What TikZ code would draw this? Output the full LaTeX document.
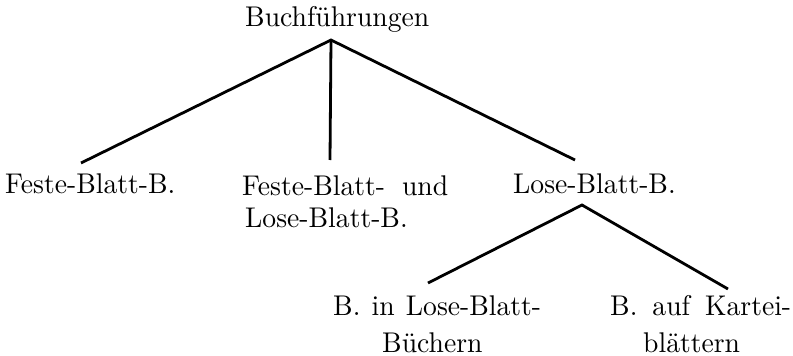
\documentclass[tikz,border=0pt]{standalone}
\usepackage{fontspec}
\setmainfont{lmroman10}[Extension=.otf,UprightFont=*-regular,FakeStretch=0.97]
\begin{document}
\begin{tikzpicture}[x=1pt,y=-1pt,
  label/.style={inner sep=0pt,anchor=base west,font=\fontsize{28.5}{32}\selectfont},
  branch/.style={line width=2.8pt,line cap=butt}]
\useasboundingbox (0,0) rectangle (793,356);

% text of the tree
\node[label] (root)  at (245,27)  {Buchf\"uhrungen};
\node[label] (fest)  at (5,193)   {Feste-Blatt-B.};
\node[label] (mixA)  at (242,195) {\makebox[206pt][s]{Feste-Blatt- und}};
\node[label] (mixB)  at (245,227) {Lose-Blatt-B.};
\node[label] (lose)  at (513,193) {Lose-Blatt-B.};
\node[label] (bookA) at (333,315) {\makebox[208pt][s]{B. in Lose-Blatt-}};
\node[label] (bookB) at (382,352) {B\"uchern};
\node[label] (cardA) at (610,315) {\makebox[181pt][s]{B. auf Kartei-}};
\node[label] (cardB) at (643,352) {bl\"attern};

% branch points and line ends
\coordinate (hub)     at (331,40);
\coordinate (festTop) at (81,163);
\coordinate (mixTop)  at (330,160);
\coordinate (loseTop) at (575,160);
\coordinate (subHub)  at (582,205);
\coordinate (bookTop) at (428,283);
\coordinate (cardTop) at (728,289);

\draw[branch] (festTop) -- (hub) -- (loseTop);
\draw[branch] (hub) -- (mixTop);
\draw[branch] (bookTop) -- (subHub) -- (cardTop);
\end{tikzpicture}
\end{document}
